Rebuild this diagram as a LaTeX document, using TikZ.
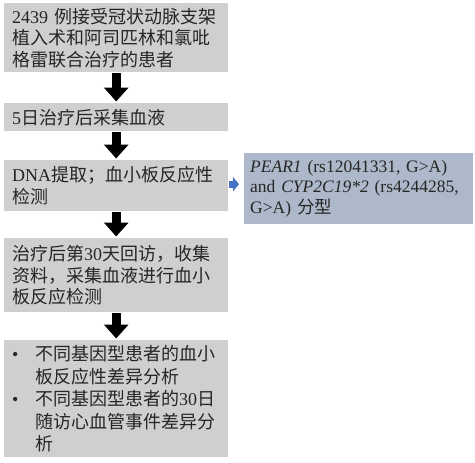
\documentclass[tikz,border=0pt]{standalone}
\usepackage{fontspec}
\setmainfont{Liberation Serif}
\newfontfamily\cjk{Noto Sans CJK SC}
\usetikzlibrary{arrows.meta}
\definecolor{boxgrey}{RGB}{208,206,206}
\definecolor{boxblue}{RGB}{173,185,202}
\definecolor{arrblue}{RGB}{68,114,196}
\definecolor{txt}{RGB}{38,38,38}
\tikzset{
  gbox/.style={fill=boxgrey, text=txt, anchor=north west, inner xsep=8pt, inner ysep=0pt,
    align=left, font=\fontsize{18}{21.5}\selectfont},
  bbox/.style={fill=boxblue, text=txt, anchor=north west, inner xsep=6pt, inner ysep=0pt,
    align=left, font=\fontsize{17.5}{20.5}\selectfont},
  blockarrow/.style={line width=9pt, -{Triangle[width=24pt,length=14pt]}, shorten <=1pt, shorten >=1.5pt},
  smallarrow/.style={arrblue, line width=7pt, -{Triangle[width=14pt,length=6pt]}, shorten <=1pt, shorten >=5pt}
}
\begin{document}
\begin{tikzpicture}[x=1pt,y=1pt]
\useasboundingbox (0,0) rectangle (475,-463);
\node[gbox, minimum width=224pt, minimum height=69pt, text width=208pt] (b1) at (4,-3)
  {2439 {\cjk 例接受冠状动脉支架}\\{\cjk 植入术和阿司匹林和氯吡}\\{\cjk 格雷联合治疗的患者}};
\node[gbox, minimum width=224pt, minimum height=28pt, text width=208pt] (b2) at (4,-103)
  {5{\cjk 日治疗后采集血液}};
\node[gbox, minimum width=224pt, minimum height=51pt, text width=208pt] (b3) at (4,-160)
  {DNA{\cjk 提取；血小板反应性}\\{\cjk 检测}};
\node[bbox, minimum width=229pt, minimum height=71pt, text width=217pt] (bb) at (244,-153)
  {\textit{PEAR1} (rs12041331, G>A)\\and \textit{CYP2C19*2} (rs4244285,\\G>A) {\cjk 分型}};
\node[gbox, minimum width=224pt, minimum height=74pt, text width=208pt] (b4) at (4,-238)
  {{\cjk 治疗后第}30{\cjk 天回访，收集}\\{\cjk 资料，采集血液进行血小}\\{\cjk 板反应检测}};
\node[gbox, minimum width=224pt, minimum height=117pt, text width=208pt,
      font=\fontsize{18}{22.5}\selectfont] (b5) at (4,-340)
  {\makebox[23pt][l]{\textbullet}{\cjk 不同基因型患者的血小}\\
   \hspace*{23pt}{\cjk 板反应性差异分析}\\
   \makebox[23pt][l]{\textbullet}{\cjk 不同基因型患者的}30{\cjk 日}\\
   \hspace*{23pt}{\cjk 随访心血管事件差异分}\\
   \hspace*{23pt}{\cjk 析}};
\draw[blockarrow] (b1.south) -- (b2.north);
\draw[blockarrow] (b2.south) -- (b3.north);
\draw[blockarrow] (b3.south) -- (b4.north);
\draw[blockarrow] (b4.south) -- (b5.north);
\draw[smallarrow] ([yshift=1.5pt]b3.east) -- ([yshift=1.5pt]b3.east -| bb.west);
\end{tikzpicture}
\end{document}
